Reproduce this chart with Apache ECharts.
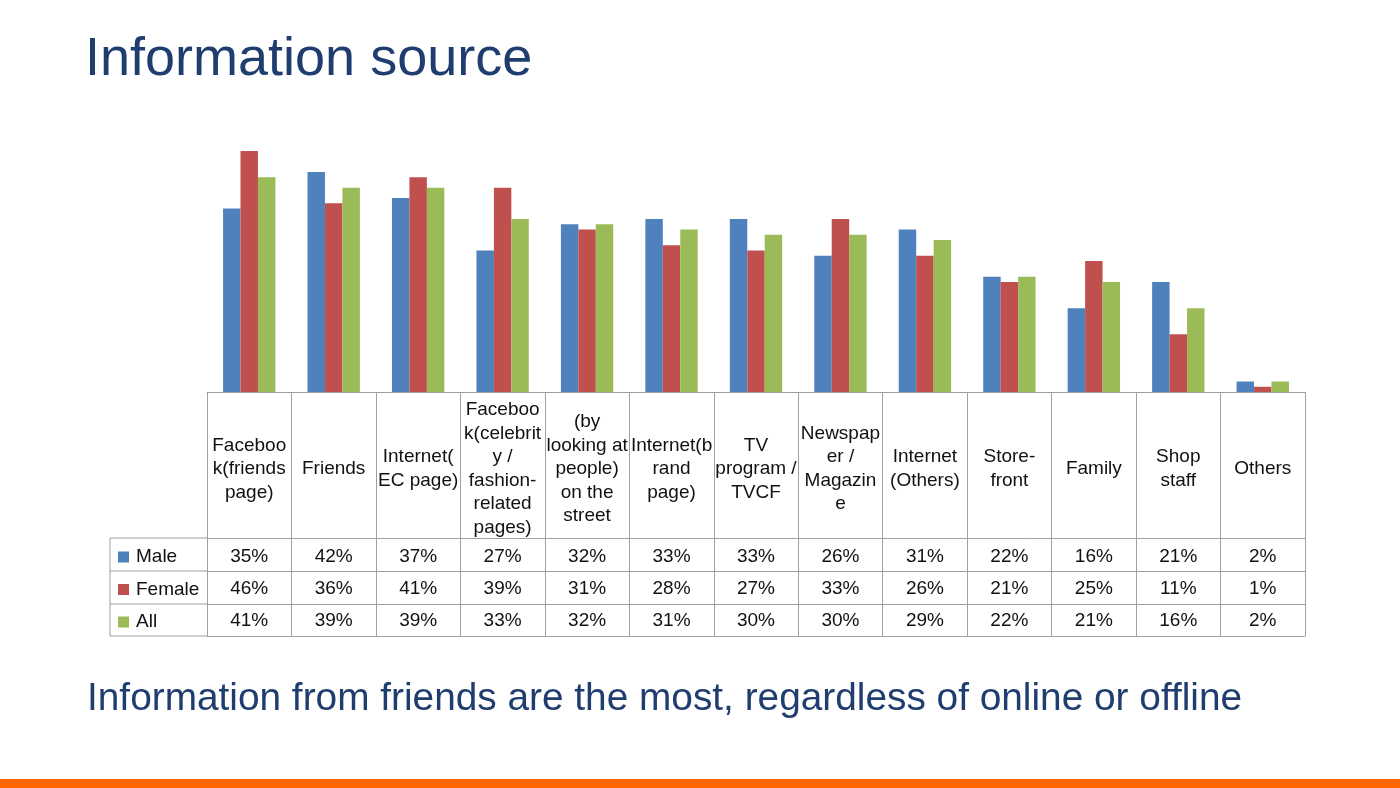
<!DOCTYPE html>
<html>
<head>
<meta charset="utf-8">
<style>
html,body{margin:0;padding:0;background:#fff;}
#c{width:1400px;height:788px;}
</style>
<script src="https://cdn.jsdelivr.net/npm/echarts@6/dist/echarts.min.js"></script>
</head>
<body>
<div id="c"></div>
<script>
var categories = [
  "Faceboo\nk(friends\npage)",
  "Friends",
  "Internet(\nEC page)",
  "Faceboo\nk(celebrit\ny /\nfashion-\nrelated\npages)",
  "(by\nlooking at\npeople)\non the\nstreet",
  "Internet(b\nrand\npage)",
  "TV\nprogram /\nTVCF",
  "Newspap\ner /\nMagazin\ne",
  "Internet\n(Others)",
  "Store-\nfront",
  "Family",
  "Shop\nstaff",
  "Others"
];
var seriesNames = ["Male", "Female", "All"];
var male   = [35, 42, 37, 27, 32, 33, 33, 26, 31, 22, 16, 21, 2];
var female = [46, 36, 41, 39, 31, 28, 27, 33, 26, 21, 25, 11, 1];
var all    = [41, 39, 39, 33, 32, 31, 30, 30, 29, 22, 21, 16, 2];
var titleText = "Information source";
var subtitleText = "Information from friends are the most, regardless of online or offline";

var FONT = "Arial, 'Liberation Sans', sans-serif";
var colors = ["#4F81BD", "#C0504D", "#9BBB59"];
var lineColor = "#A0A0A0";
var textColor = "#111111";

var chart = echarts.init(document.getElementById('c'), null, {renderer: 'canvas'});

var GL = 207, GR = 1305, GT = 130, GB = 392;
var rowLines = [538, 571, 604, 636];
var tableLeft = 110;

function rowAxis(values, offset, margin, showLabel) {
  return {
    type: 'category', gridIndex: 0, position: 'bottom', offset: offset,
    data: categories,
    axisLine: {show: true, lineStyle: {color: lineColor, width: 1}},
    axisTick: {show: false},
    axisLabel: {
      show: showLabel, interval: 0, margin: margin, verticalAlign: 'middle',
      fontFamily: FONT, fontSize: 19, color: textColor,
      formatter: function (v, i) { return values ? values[i] + '%' : ''; }
    }
  };
}

var graphics = [
  {type: 'text', left: 85, top: 33, style: {text: titleText, font: "54px " + FONT, fill: "#1F3D6E"}},
  {type: 'text', left: 87, top: 680, style: {text: subtitleText, font: "38.8px " + FONT, fill: "#1F3D6E"}},
  {type: 'rect', shape: {x: 0, y: 779, width: 1400, height: 9}, style: {fill: "#FF6600"}},
  {type: 'line', shape: {x1: tableLeft, y1: rowLines[0], x2: tableLeft, y2: rowLines[3]}, style: {stroke: lineColor, lineWidth: 1}}
];
rowLines.forEach(function (y) {
  graphics.push({type: 'line', shape: {x1: tableLeft, y1: y, x2: GL, y2: y}, style: {stroke: lineColor, lineWidth: 1}});
});

var option = {
  backgroundColor: '#fff',
  animation: false,
  color: colors,
  legend: {
    data: seriesNames, orient: 'vertical', left: 118, top: 547, padding: 0,
    itemWidth: 11, itemHeight: 11, itemGap: 12.5, icon: 'rect', selectedMode: false,
    textStyle: {fontFamily: FONT, fontSize: 19, color: textColor, lineHeight: 20, padding: [0, 0, 0, 2]}
  },
  grid: {left: GL, right: 1400 - GR, top: GT, bottom: 788 - GB, containLabel: false},
  xAxis: [
    {
      type: 'category', gridIndex: 0, position: 'bottom', data: categories,
      axisLine: {show: true, lineStyle: {color: lineColor, width: 1}},
      axisTick: {show: true, interval: 0, length: rowLines[3] - GB, lineStyle: {color: lineColor, width: 1}},
      axisLabel: {interval: 0, margin: 77, verticalAlign: 'middle', fontFamily: FONT, fontSize: 19, lineHeight: 23.5, color: textColor, align: 'center'}
    },
    rowAxis(male, rowLines[0] - GB, 19, true),
    rowAxis(female, rowLines[1] - GB, 18, true),
    rowAxis(all, rowLines[2] - GB, 17, true),
    rowAxis(null, rowLines[3] - GB, 10, false)
  ],
  yAxis: {type: 'value', min: 0, max: 50, show: false, splitLine: {show: false}},
  series: [
    {name: seriesNames[0], type: 'bar', data: male, barGap: '0%', barCategoryGap: '38%', itemStyle: {color: colors[0]}},
    {name: seriesNames[1], type: 'bar', data: female, barGap: '0%', barCategoryGap: '38%', itemStyle: {color: colors[1]}},
    {name: seriesNames[2], type: 'bar', data: all, barGap: '0%', barCategoryGap: '38%', itemStyle: {color: colors[2]}}
  ],
  graphic: graphics
};
chart.setOption(option);
</script>
</body>
</html>
